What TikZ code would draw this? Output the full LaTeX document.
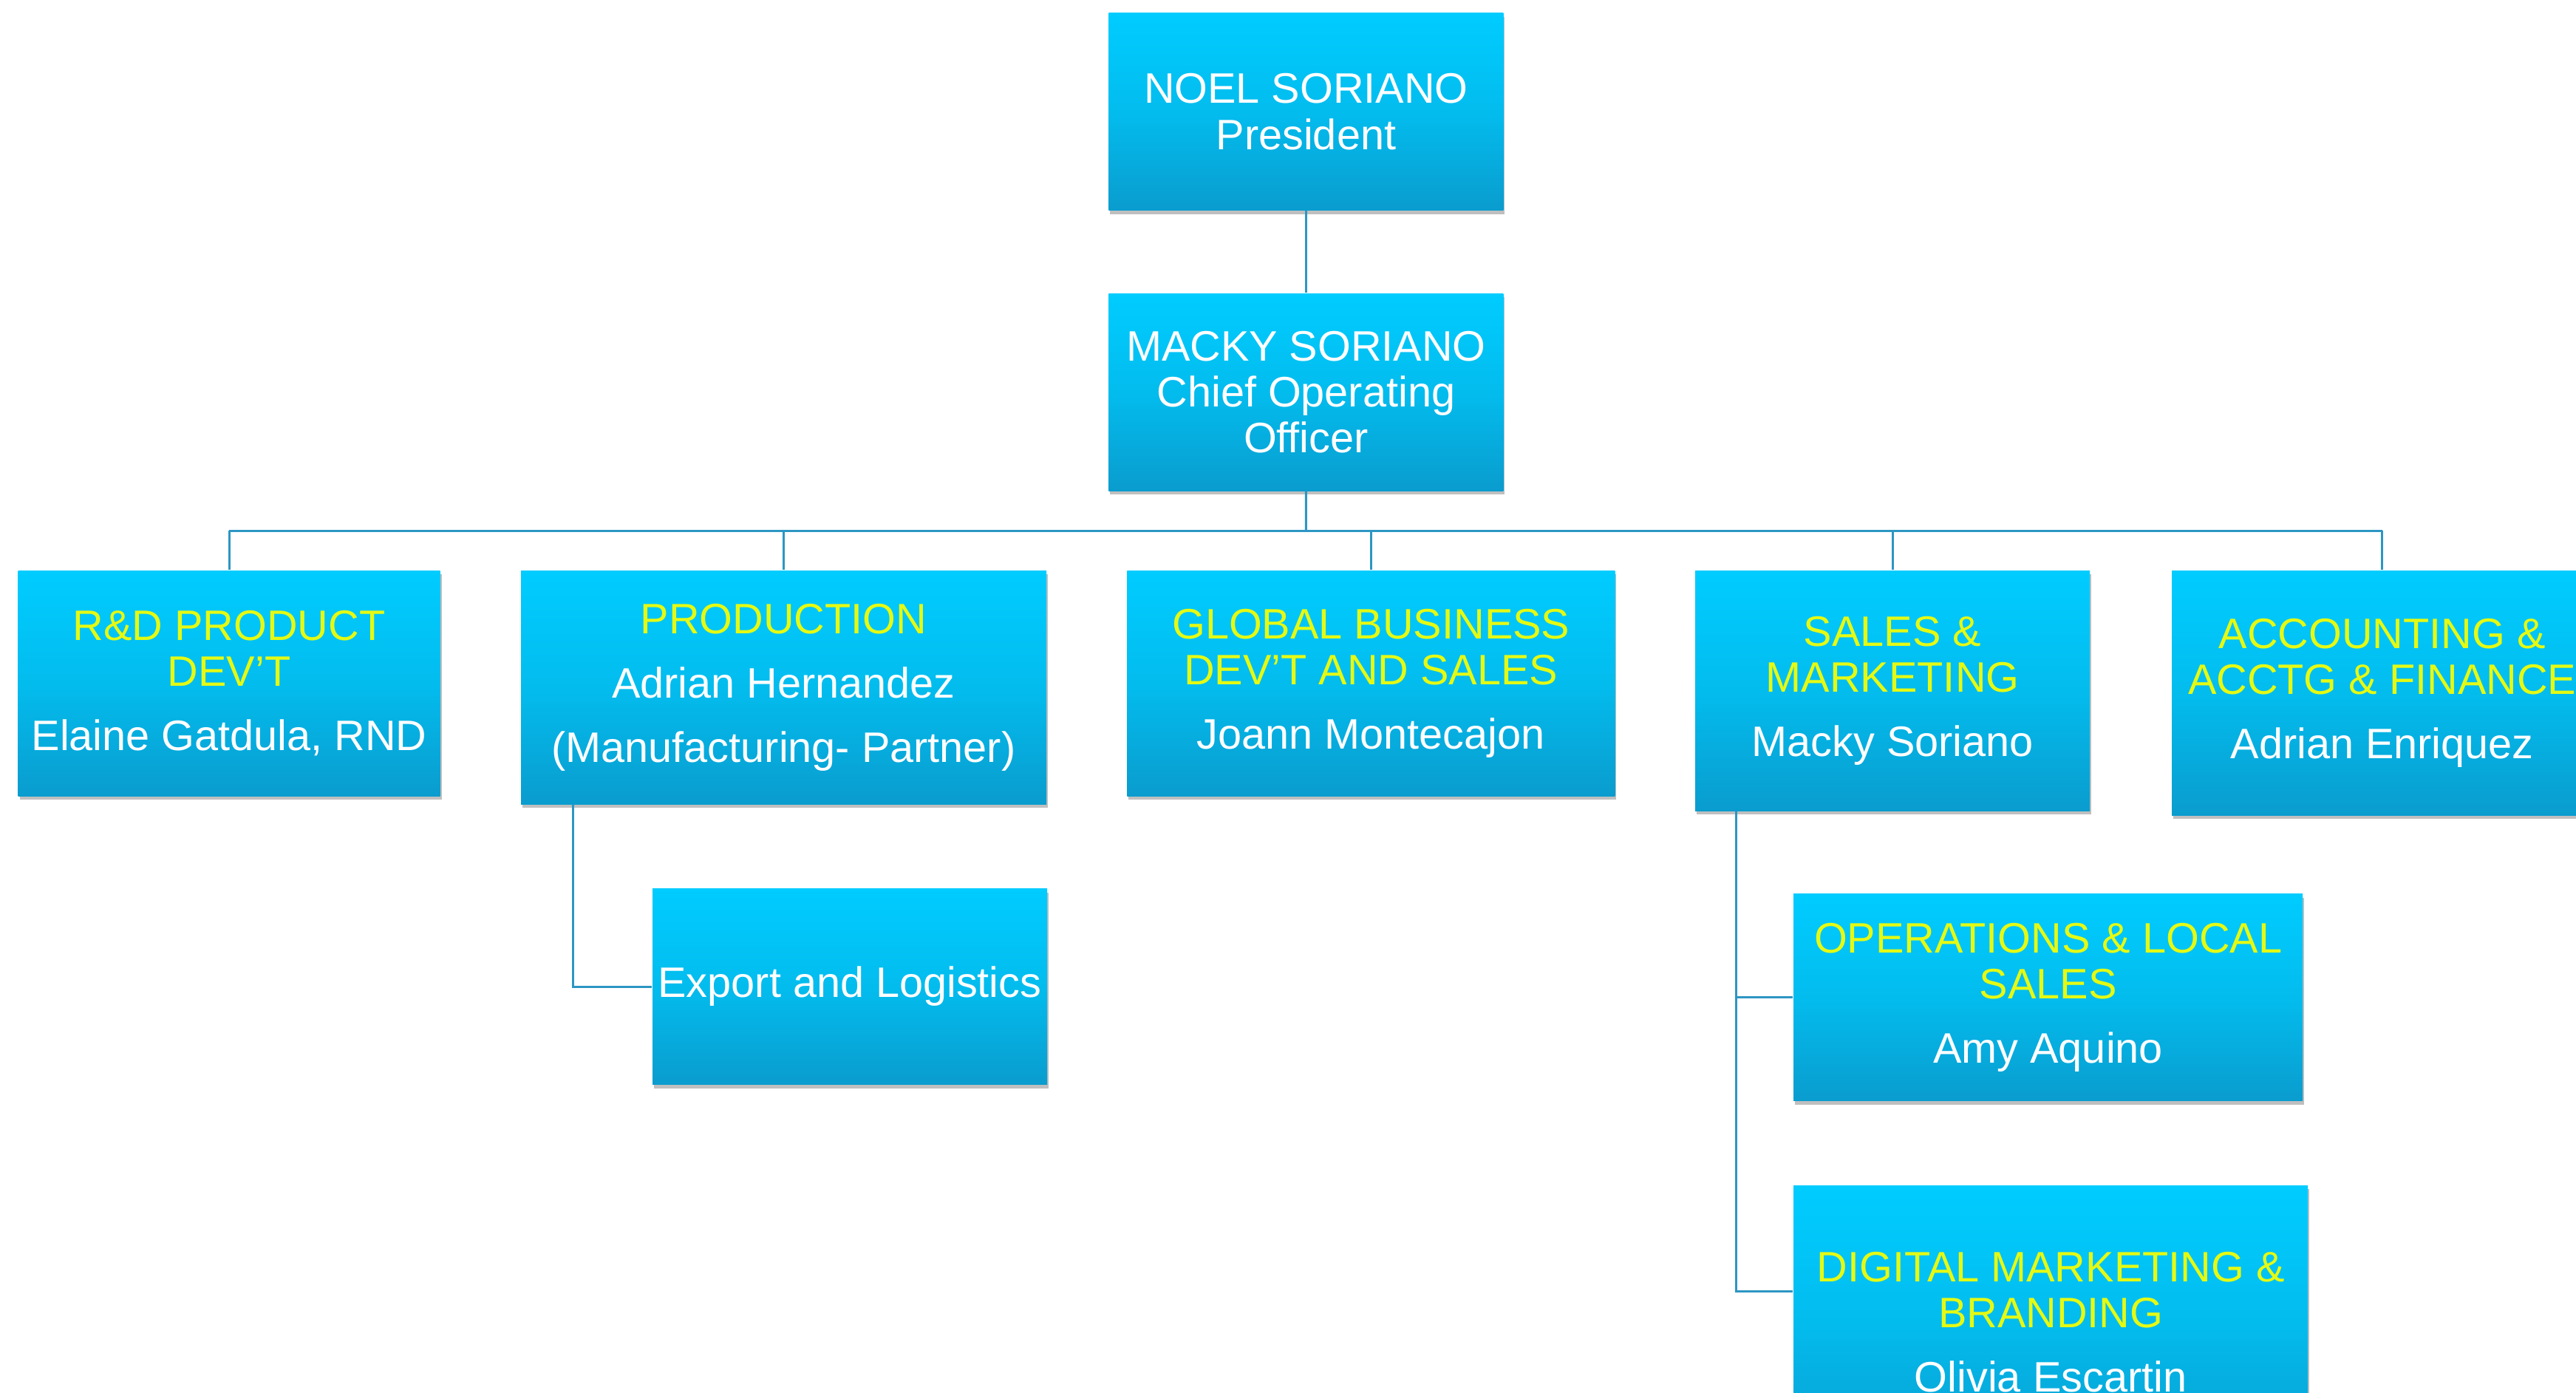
\documentclass[tikz,border=0pt]{standalone}
\usepackage{fontspec}
\setmainfont{Liberation Sans}
\usepackage{xcolor}
\usepackage{tikz}
\usetikzlibrary{positioning, shadows, calc}
\definecolor{boxtop}{RGB}{0,204,255}
\definecolor{boxmid}{RGB}{3,188,238}
\definecolor{boxbottom}{RGB}{10,156,206}
\definecolor{headline}{RGB}{228,250,20}
\definecolor{connector}{RGB}{45,150,195}
\newcommand{\hd}[1]{\textcolor{headline}{#1}}

\begin{document}
\begin{tikzpicture}[
			every node/.style={font=\fontsize{16.4}{17.7}\selectfont},
			unit/.style={rectangle, inner sep=0pt, align=center, text=white, top color=boxtop, bottom color=boxbottom, middle color=boxmid, drop shadow={shadow xshift=0.02cm, shadow yshift=-0.05cm, opacity=0.25, fill=black}},
			link/.style={draw=connector, line width=0.9pt}
			]
			
			% Page
			\clip (0,0) rectangle (34.86,18.85);
			\fill[white] (0,0) rectangle (34.86,18.85);
			
			% President
			\node[unit, minimum width=5.34cm, minimum height=2.67cm] (president) at (17.674,17.338) {NOEL SORIANO\\President};
			
			% COO
			\node[unit, minimum width=5.34cm, minimum height=2.67cm, below=1.11cm of president] (coo) {MACKY SORIANO\\Chief Operating\\Officer};
			
			% Departments
			\node[unit, anchor=north, minimum width=5.71cm, minimum height=3.05cm] (rnd) at (3.101,11.135) {\hd{R\&D PRODUCT}\\\hd{DEV'T}\\[7pt]Elaine Gatdula, RND};
			\node[unit, anchor=north, minimum width=7.11cm, minimum height=3.16cm] (production) at (10.605,11.135) {\hd{PRODUCTION}\\[7pt]Adrian Hernandez\\[7pt](Manufacturing- Partner)};
			\node[unit, anchor=north, minimum width=6.60cm, minimum height=3.05cm] (globalbiz) at (18.553,11.135) {\hd{GLOBAL BUSINESS}\\\hd{DEV'T AND SALES}\\[7pt]Joann Montecajon};
			\node[unit, anchor=north, minimum width=5.34cm, minimum height=3.25cm] (sales) at (25.611,11.135) {\hd{SALES \&}\\\hd{MARKETING}\\[7pt]Macky Soriano};
			\node[unit, anchor=north, minimum width=5.69cm, minimum height=3.31cm] (accounting) at (32.236,11.135) {\hd{ACCOUNTING \&}\\\hd{ACCTG \& FINANCE}\\[7pt]Adrian Enriquez};
			
			% Sub units
			\node[unit, minimum width=5.34cm, minimum height=2.65cm, below right=1.13cm and 1.78cm of production.south west] (export) {Export and Logistics};
			\node[unit, minimum width=6.89cm, minimum height=2.80cm, below right=1.11cm and 1.33cm of sales.south west] (operations) {\hd{OPERATIONS \& LOCAL}\\\hd{SALES}\\[7pt]Amy Aquino};
			\node[unit, minimum width=6.96cm, minimum height=3.70cm, below=1.13cm of operations.south west, anchor=north west] (digital) {\hd{DIGITAL MARKETING \&}\\\hd{BRANDING}\\[7pt]Olivia Escartin};
			
			% Lines
			\draw[link] (president) -- (coo);
			\draw[link] (coo.south) -- ($(coo.south)!0.5!(coo.south |- globalbiz.north)$) coordinate (bus);
			\draw[link] (rnd.north |- bus) -- (accounting.north |- bus);
			\foreach \dep in {rnd, production, globalbiz, sales, accounting}
				\draw[link] (\dep.north |- bus) -- (\dep.north);
			\draw[link] ([xshift=0.71cm]production.south west) |- (export.west);
			\draw[link] ([xshift=0.56cm]sales.south west) |- (operations.west);
			\draw[link] ([xshift=0.56cm]sales.south west) |- ([yshift=-1.445cm]digital.north west);
			
		\end{tikzpicture}
\end{document}
